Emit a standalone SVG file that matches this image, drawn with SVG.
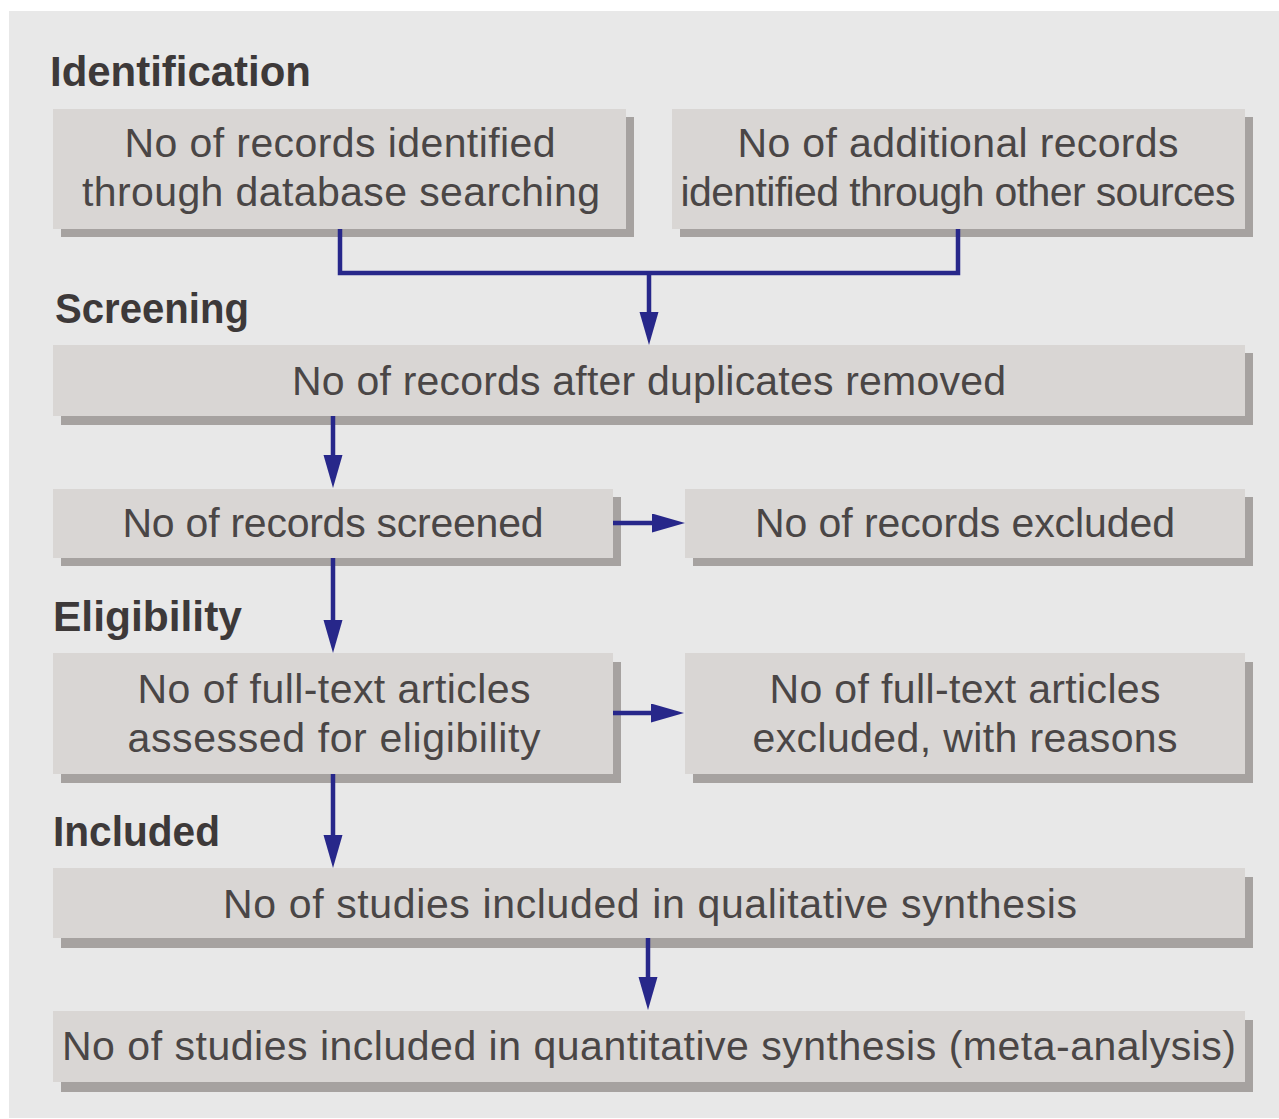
<svg xmlns="http://www.w3.org/2000/svg" width="1279" height="1119" viewBox="0 0 1279 1119">
<defs>
<style>
.panel{fill:#e8e8e8}
.box{fill:#d9d6d4}
.shadow{fill:#a6a2a0}
.t{font-family:"Liberation Sans",Arial,sans-serif;font-size:41px;fill:#4a4646;text-anchor:middle}
.h{font-family:"Liberation Sans",Arial,sans-serif;font-size:42px;font-weight:bold;fill:#3d3939}
.c{fill:none;stroke:#27278a;stroke-width:4.5}
.a{fill:none;stroke:#27278a;stroke-width:4.5;marker-end:url(#ah)}
</style>
<marker id="ah" markerUnits="userSpaceOnUse" markerWidth="34" markerHeight="20" viewBox="0 0 34 20" refX="1" refY="9.5" orient="auto">
<path d="M0,0 L33,9.5 L0,19 z" fill="#27278a"/>
</marker>
</defs>
<rect class="panel" x="9" y="11" width="1270" height="1107"/>
<g id="headings">
<text class="h" x="50" y="86" textLength="261" lengthAdjust="spacingAndGlyphs">Identification</text>
<text class="h" x="55" y="323" textLength="194" lengthAdjust="spacingAndGlyphs">Screening</text>
<text class="h" x="53" y="631" textLength="189" lengthAdjust="spacingAndGlyphs">Eligibility</text>
<text class="h" x="53" y="846" textLength="167" lengthAdjust="spacingAndGlyphs">Included</text>
</g>
<g id="n1">
<rect class="shadow" x="61" y="117" width="573" height="120"/>
<rect class="box" x="53" y="109" width="573" height="120"/>
<text class="t" x="340" y="157" textLength="431">No of records identified</text>
<text class="t" x="341" y="206" textLength="518">through database searching</text>
</g>
<g id="n2">
<rect class="shadow" x="680" y="117" width="573" height="120"/>
<rect class="box" x="672" y="109" width="573" height="120"/>
<text class="t" x="958" y="157" textLength="441">No of additional records</text>
<text class="t" x="958" y="206" textLength="555">identified through other sources</text>
</g>
<g id="n3">
<rect class="shadow" x="61" y="353" width="1192" height="72"/>
<rect class="box" x="53" y="345" width="1192" height="71"/>
<text class="t" x="649" y="395" textLength="714">No of records after duplicates removed</text>
</g>
<g id="n4">
<rect class="shadow" x="61" y="497" width="560" height="69"/>
<rect class="box" x="53" y="489" width="560" height="69"/>
<text class="t" x="333" y="537" textLength="421">No of records screened</text>
</g>
<g id="n5">
<rect class="shadow" x="693" y="497" width="560" height="69"/>
<rect class="box" x="685" y="489" width="560" height="69"/>
<text class="t" x="965" y="537" textLength="420">No of records excluded</text>
</g>
<g id="n6">
<rect class="shadow" x="61" y="662" width="560" height="121"/>
<rect class="box" x="53" y="653" width="560" height="121"/>
<text class="t" x="334" y="703" textLength="393">No of full-text articles</text>
<text class="t" x="334" y="752" textLength="413">assessed for eligibility</text>
</g>
<g id="n7">
<rect class="shadow" x="693" y="662" width="560" height="121"/>
<rect class="box" x="685" y="653" width="560" height="121"/>
<text class="t" x="965" y="703" textLength="391">No of full-text articles</text>
<text class="t" x="965" y="752" textLength="425">excluded, with reasons</text>
</g>
<g id="n8">
<rect class="shadow" x="61" y="877" width="1192" height="71"/>
<rect class="box" x="53" y="868" width="1192" height="70"/>
<text class="t" x="650" y="918" textLength="854">No of studies included in qualitative synthesis</text>
</g>
<g id="n9">
<rect class="shadow" x="61" y="1020" width="1192" height="72"/>
<rect class="box" x="53" y="1011" width="1192" height="71"/>
<text class="t" x="649" y="1060" textLength="1174">No of studies included in quantitative synthesis (meta-analysis)</text>
</g>
<g id="connectors">
<path class="c" d="M340,229 V273 H958 V229"/>
<path class="a" d="M649,271 V313"/>
<path class="a" d="M333,416 V456"/>
<path class="a" d="M613,523 H653"/>
<path class="a" d="M333,558 V621"/>
<path class="a" d="M613,713 H652"/>
<path class="a" d="M333,774 V836"/>
<path class="a" d="M648,938 V978"/>
</g>
</svg>
